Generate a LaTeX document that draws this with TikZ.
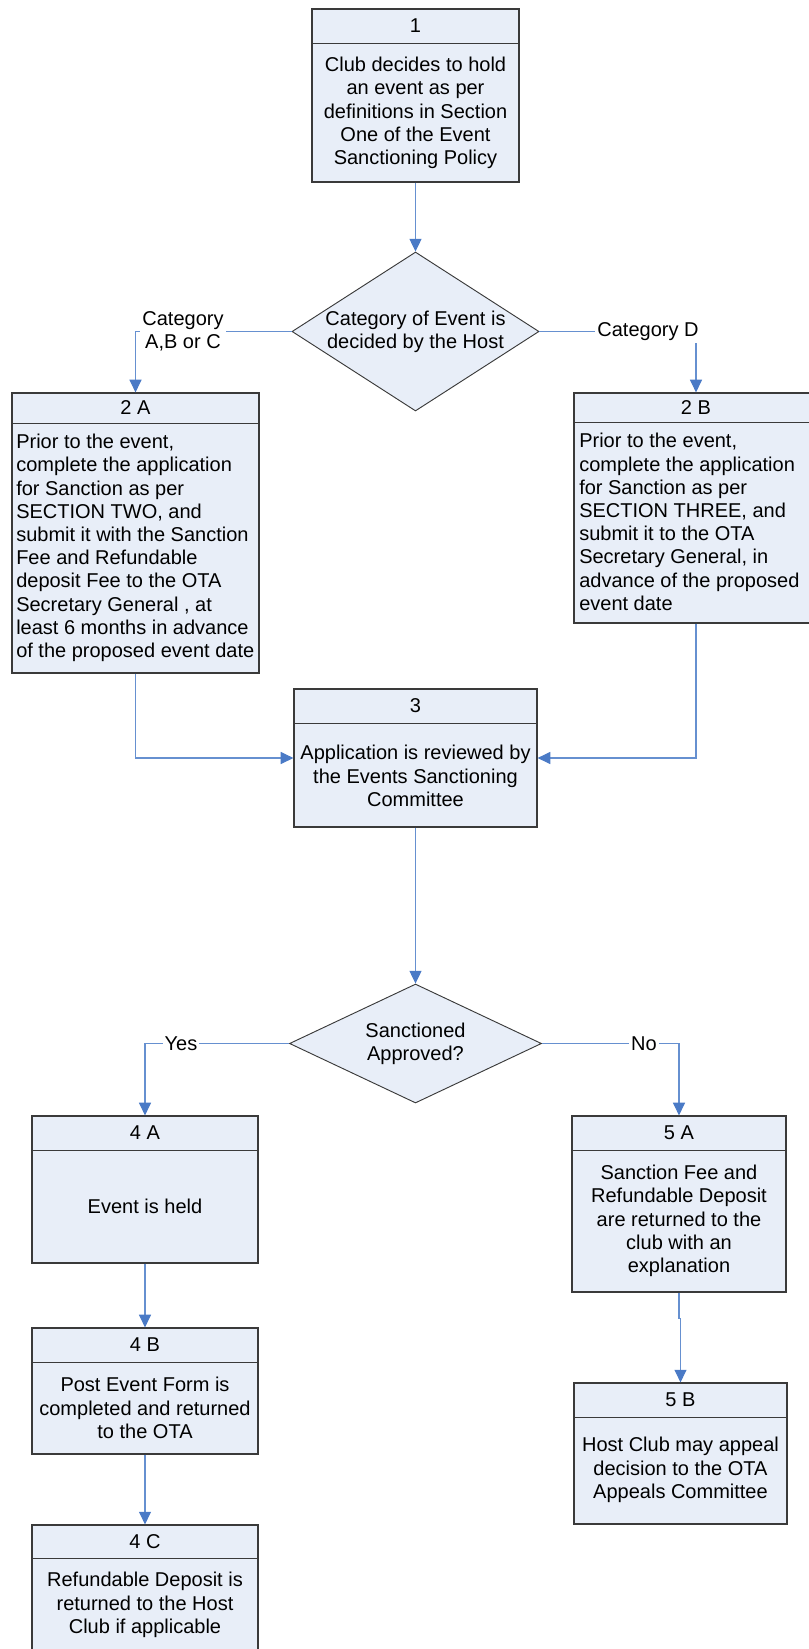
\documentclass[tikz,border=0pt]{standalone}
\usepackage{fontspec}
\setmainfont{Liberation Sans}
\usetikzlibrary{shapes.geometric,arrows.meta,calc}
\definecolor{boxfill}{HTML}{E8EEF8}
\definecolor{conncol}{HTML}{6690D0}
\definecolor{tipcol}{HTML}{4A7AC6}
\definecolor{edgecol}{HTML}{3A3A3A}
\tikzset{
 box/.style={draw=edgecol, fill=boxfill, line width=0.9pt, inner sep=0pt},
 dia/.style={diamond, draw=edgecol, fill=boxfill, line width=0.7pt, inner sep=0pt},
 txt/.style={font=\fontsize{15}{17.4}\selectfont, inner sep=0pt, align=center},
 ltxt/.style={txt, align=left, anchor=west},
 lbl/.style={txt, fill=white, inner sep=1.5pt},
 conn/.style={draw=conncol, line width=0.8pt, -{Triangle[length=9.5pt,width=9pt,color=tipcol]}},
 hline/.style={draw=edgecol, line width=0.9pt},
}
\begin{document}
\begin{tikzpicture}[x=0.75pt,y=-0.75pt]
\useasboundingbox (0,0) rectangle (809,1649);
% boxes
\node[box, minimum width=155.25pt, minimum height=129.75pt] (b1) at (415.5,95.5) {};
\node[box, minimum width=185.25pt, minimum height=210pt] (b2a) at (135.5,533) {};
\node[box, minimum width=183pt, minimum height=172.5pt] (b2b) at (696,508) {};
\node[box, minimum width=182.25pt, minimum height=103.5pt] (b3) at (415.5,758) {};
\node[box, minimum width=169.5pt, minimum height=110.25pt] (b4a) at (145,1189.5) {};
\node[box, minimum width=169.5pt, minimum height=94.5pt] (b4b) at (145,1391) {};
\node[box, minimum width=169.5pt, minimum height=101.25pt] (b4c) at (145,1592.5) {};
\node[box, minimum width=160.5pt, minimum height=132pt] (b5a) at (679,1204) {};
\node[box, minimum width=159.75pt, minimum height=105.75pt] (b5b) at (680.5,1453.5) {};
% header lines
\draw[hline] ($(b1.north west)+(0,35)$) -- ($(b1.north east)+(0,35)$);
\draw[hline] ($(b2a.north west)+(0,31)$) -- ($(b2a.north east)+(0,31)$);
\draw[hline] ($(b2b.north west)+(0,30)$) -- ($(b2b.north east)+(0,30)$);
\draw[hline] ($(b3.north west)+(0,35)$) -- ($(b3.north east)+(0,35)$);
\draw[hline] ($(b4a.north west)+(0,35)$) -- ($(b4a.north east)+(0,35)$);
\draw[hline] ($(b4b.north west)+(0,35)$) -- ($(b4b.north east)+(0,35)$);
\draw[hline] ($(b4c.north west)+(0,34)$) -- ($(b4c.north east)+(0,34)$);
\draw[hline] ($(b5a.north west)+(0,35)$) -- ($(b5a.north east)+(0,35)$);
\draw[hline] ($(b5b.north west)+(0,35)$) -- ($(b5b.north east)+(0,35)$);
% header texts
\node[txt] (h1) at ($(b1.north)+(0,17.5)$) {1};
\node[txt] (h2a) at ($(b2a.north)+(0,15.5)$) {2 A};
\node[txt] (h2b) at ($(b2b.north)+(0,15)$) {2 B};
\node[txt] (h3) at ($(b3.north)+(0,17.5)$) {3};
\node[txt] (h4a) at ($(b4a.north)+(0,17.5)$) {4 A};
\node[txt] (h4b) at ($(b4b.north)+(0,17.5)$) {4 B};
\node[txt] (h4c) at ($(b4c.north)+(0,17)$) {4 C};
\node[txt] (h5a) at ($(b5a.north)+(0,17.5)$) {5 A};
\node[txt] (h5b) at ($(b5b.north)+(0,17.5)$) {5 B};
% body texts
\node[txt] (t1) at (415.5,113) {Club decides to hold\\an event as per\\definitions in Section\\One of the Event\\Sanctioning Policy};
\node[ltxt] (t2a) at (16,548) {Prior to the event,\\complete the application\\for Sanction as per\\SECTION TWO, and\\submit it with the Sanction\\Fee and Refundable\\deposit Fee to the OTA\\Secretary General , at\\least 6 months in advance\\of the proposed event date};
\node[ltxt] (t2b) at (579,522) {Prior to the event,\\complete the application\\for Sanction as per\\SECTION THREE, and\\submit it to the OTA\\Secretary General, in\\advance of the proposed\\event date};
\node[txt] (t3) at (415.5,776) {Application is reviewed by\\the Events Sanctioning\\Committee};
\node[txt] (t4a) at (145,1206) {Event is held};
\node[txt] (t4b) at (145,1408) {Post Event Form is\\completed and returned\\to the OTA};
\node[txt] (t4c) at (145,1605) {Refundable Deposit is\\returned to the Host\\Club if applicable};
\node[txt] (t5a) at (679,1221) {Sanction Fee and\\Refundable Deposit\\are returned to the\\club with an\\explanation};
\node[txt] (t5b) at (680.5,1470) {Host Club may appeal\\decision to the OTA\\Appeals Committee};
% diamonds
\node[dia, minimum width=185.25pt, minimum height=119.25pt] (d1) at (415.5,331.5) {};
\node[txt] (dt1) at (415.5,331.5) {Category of Event is\\decided by the Host};
\node[dia, minimum width=189pt, minimum height=89.25pt] (d2) at (415.5,1043.5) {};
\node[txt] (dt2) at (415.5,1044) {Sanctioned\\Approved?};
% connectors
\draw[conn] (b1.south) -- (d1.north);
\draw[conn] (d1.west) -| (b2a.north);
\node[lbl] (lA) at (183,331) {Category\\A,B or C};
\draw[conn] (d1.east) -| (b2b.north);
\node[lbl] (lD) at (648,332) {Category D};
\draw[conn] (b2a.south) |- (b3.west);
\draw[conn] (b2b.south) |- (b3.east);
\draw[conn] (b3.south) -- (d2.north);
\draw[conn] (d2.west) -| (b4a.north);
\node[lbl] (lY) at (181,1043.5) {Yes};
\draw[conn] (d2.east) -| (b5a.north);
\node[lbl] (lN) at (644,1043.5) {No};
\draw[conn] (b4a.south) -- (b4b.north);
\draw[conn] (b4b.south) -- (b4c.north);
\draw[conn] (b5a.south) -- ++(0,26) coordinate (j5) -| (b5b.north);
\end{tikzpicture}
\end{document}
